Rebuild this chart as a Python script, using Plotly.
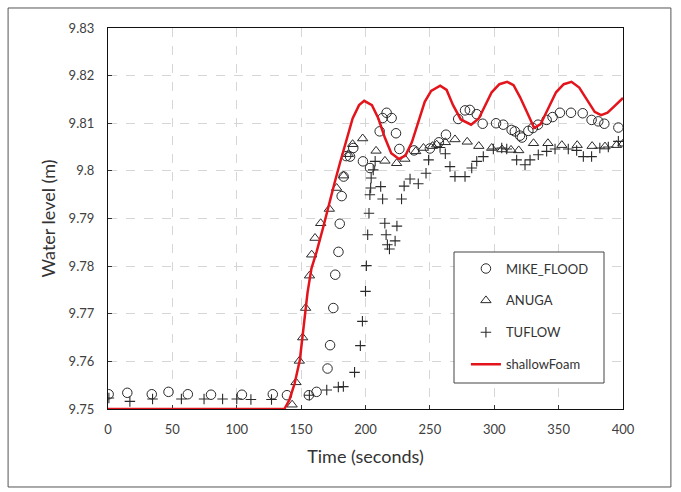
import plotly.graph_objects as go

# shallowFoam (red line)
sf_t = [0, 137, 141, 145, 149, 152, 155, 158, 162, 167, 172, 176, 180, 185, 190, 195, 199,
        205, 210, 215, 220, 226, 231, 236, 241, 246, 251, 258, 263, 268, 274, 282, 288, 293,
        298, 304, 310, 315, 320, 326, 331, 336, 342, 348, 354, 360, 366, 372, 378, 383, 388,
        393, 397, 400]
sf_h = [9.75, 9.75, 9.752, 9.7554, 9.7603, 9.7675, 9.7745, 9.7795, 9.783, 9.788, 9.7935,
        9.7975, 9.8015, 9.8065, 9.811, 9.8138, 9.8147, 9.8138, 9.811, 9.807, 9.8037, 9.8025,
        9.8032, 9.806, 9.8105, 9.8145, 9.8168, 9.8179, 9.817, 9.8138, 9.8108, 9.8097, 9.811,
        9.8138, 9.8165, 9.8182, 9.8187, 9.818, 9.8155, 9.812, 9.809, 9.8098, 9.8132, 9.8165,
        9.8182, 9.8187, 9.8175, 9.8148, 9.8124, 9.8117, 9.8122, 9.8135, 9.8146, 9.8153]

# MIKE_FLOOD (circles)
mf_t = [0.5, 15, 34, 47, 62, 80, 104, 128, 139, 156, 162, 170.5, 172.5, 175, 176.5, 179, 180,
        181.5, 183, 185, 188, 190.5, 198, 203.5, 211, 213.3, 216.4, 220.3, 223.7, 226.3, 237.7,
        250, 257, 262.5, 272, 277.3, 281, 286.4, 291, 301.4, 307, 313.5, 316, 320, 321.5, 326.5,
        330, 334, 340.7, 345.3, 351, 359.6, 368.7, 375.6, 380.8, 385.5, 396.4]
mf_h = [9.7531, 9.7534, 9.7531, 9.7536, 9.7531, 9.753, 9.753, 9.7531, 9.7529, 9.7529, 9.7536,
        9.7585, 9.7634, 9.7712, 9.7782, 9.783, 9.7889, 9.7947, 9.7988, 9.8031, 9.803, 9.8048,
        9.802, 9.8006, 9.8083, 9.8111, 9.8122, 9.8111, 9.8079, 9.8046, 9.8043, 9.8047, 9.806,
        9.8076, 9.8109, 9.8127, 9.8128, 9.8119, 9.8099, 9.81, 9.8097, 9.8086, 9.8083, 9.8074,
        9.807, 9.8084, 9.809, 9.8097, 9.8107, 9.8113, 9.8122, 9.8122, 9.8121, 9.8107, 9.8104,
        9.8099, 9.8091]

# ANUGA (triangles)
an_t = [143, 146, 148.6, 151.2, 153.5, 156.5, 158.2, 160.8, 165.2, 171.9, 177.6, 183, 186.7,
        190, 197.8, 208.2, 215.1, 224.2, 230.6, 239, 245, 252, 255.3, 262, 269.5, 279, 288, 298,
        306, 313, 319, 330.5, 341.7, 352.5, 364.4, 376, 386, 395, 400]
an_h = [9.7509, 9.7556, 9.7601, 9.765, 9.7712, 9.778, 9.7824, 9.7859, 9.789, 9.792, 9.7964,
        9.799, 9.8035, 9.8056, 9.8068, 9.8042, 9.8021, 9.8016, 9.8025, 9.8041, 9.8048, 9.8052,
        9.8055, 9.806, 9.8066, 9.8061, 9.8052, 9.8048, 9.8045, 9.8044, 9.8043, 9.8058, 9.8058,
        9.8054, 9.8054, 9.8052, 9.8051, 9.8054, 9.8057]

# TUFLOW (plus)
tu_t = [0.7, 17, 34.6, 57, 74.6, 89, 100, 111, 127, 156.4, 169.9, 178.9, 182.8, 191.5, 196,
        197.6, 200, 200.7, 201.7, 202.7, 203.4, 204, 204.4, 206, 207.5, 211.8, 213.3, 215, 216,
        217, 218.6, 223, 224.4, 228, 230, 234.6, 241, 247, 249, 257.9, 262, 265.6, 269.5, 277.3,
        282.5, 286.4, 291.5, 299.3, 305.8, 309.7, 317.4, 323.9, 327.8, 334.2, 340.7, 347.2,
        357.5, 364, 369.2, 375.6, 382, 388.6, 396.4]
tu_h = [9.7523, 9.7516, 9.7521, 9.7521, 9.7521, 9.7521, 9.7521, 9.752, 9.752, 9.7529, 9.754,
        9.7546, 9.7547, 9.7577, 9.7633, 9.7684, 9.7747, 9.7801, 9.7866, 9.7911, 9.795, 9.7964,
        9.7985, 9.8002, 9.802, 9.7967, 9.7941, 9.789, 9.7866, 9.7845, 9.7836, 9.7853, 9.7884,
        9.7941, 9.7968, 9.7983, 9.7973, 9.7995, 9.8023, 9.8049, 9.8036, 9.8009, 9.7988, 9.7988,
        9.8006, 9.802, 9.803, 9.8046, 9.8048, 9.8046, 9.8023, 9.8013, 9.8023, 9.8034, 9.8041,
        9.8046, 9.8046, 9.8043, 9.803, 9.803, 9.8048, 9.805, 9.8062]

FONT = "Lato, Open Sans, sans-serif"
MK = "#2a2a2a"

fig = go.Figure()
fig.add_trace(go.Scatter(x=mf_t, y=mf_h, mode="markers", name="MIKE_FLOOD", legendgroup="a",
                         marker=dict(symbol="circle-open", size=9.5, color=MK, line=dict(width=1))))
fig.add_trace(go.Scatter(x=an_t, y=an_h, mode="markers", name="ANUGA", legendgroup="b",
                         marker=dict(symbol="triangle-up-open", size=9, color=MK, line=dict(width=1))))
fig.add_trace(go.Scatter(x=tu_t, y=tu_h, mode="markers", name="TUFLOW", legendgroup="c",
                         marker=dict(symbol="cross-thin-open", size=7.5, color=MK, line=dict(width=1.1))))
fig.add_trace(go.Scatter(x=sf_t, y=sf_h, mode="lines", name="shallowFoam", legendgroup="d",
                         line=dict(color="#e3141b", width=2.5)))

axis_common = dict(showline=True, linecolor="#111", linewidth=1.2, mirror=True,
                   ticks="inside", ticklen=4, tickcolor="#333", layer="below traces",
                   showgrid=True, gridcolor="#d6d6d6", griddash="dash", gridwidth=1,
                   zeroline=False, tickfont=dict(family=FONT, size=13, color="#404040"),
                   title_font=dict(family=FONT, size=18, color="#333"))

fig.update_xaxes(range=[0, 400], tick0=0, dtick=50, title_text="Time (seconds)",
                 ticklabelstandoff=8, title_standoff=14, **axis_common)
fig.update_yaxes(range=[9.75, 9.83], tick0=9.75, dtick=0.01, title_text="Water level (m)",
                 ticklabelstandoff=10, title_standoff=8, **axis_common)

fig.update_layout(
    width=681, height=492,
    margin=dict(l=108, r=58, t=28, b=83),
    paper_bgcolor="white", plot_bgcolor="white",
    font=dict(family=FONT, color="#333"),
    showlegend=True,
    legend=dict(x=0.695, y=0.408, xanchor="left", yanchor="top",
                bgcolor="rgba(0,0,0,0)", borderwidth=0,
                font=dict(family=FONT, size=13, color="#333"),
                tracegroupgap=12, traceorder="grouped"),
    shapes=[
        dict(type="rect", xref="paper", yref="paper",
             x0=-0.194, x1=1.093, y0=-0.2047, y1=1.0525,
             line=dict(color="#555", width=1), fillcolor="rgba(0,0,0,0)", layer="below"),
        dict(type="rect", xref="paper", yref="paper",
             x0=(454 - 108) / 515, x1=(604 - 108) / 515,
             y0=(409 - 383) / 381, y1=(409 - 252) / 381,
             line=dict(color="#444", width=1), fillcolor="white", layer="above"),
    ],
)

fig.write_html("out.html")
